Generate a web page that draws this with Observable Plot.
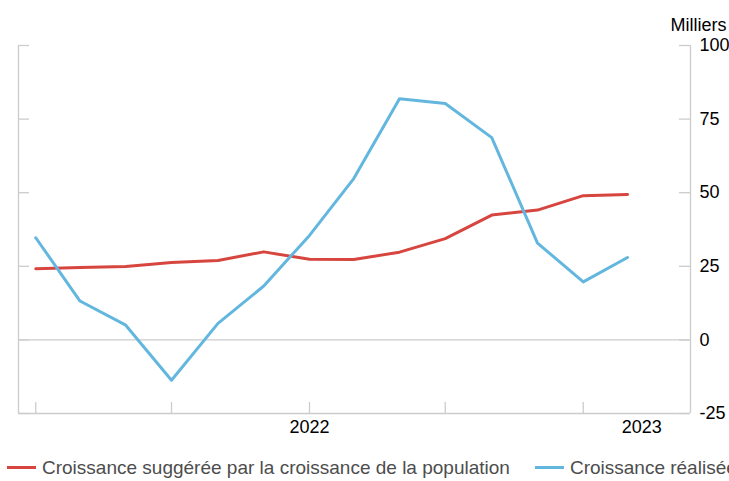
<!DOCTYPE html>
<html>
<head>
<meta charset="utf-8">
<script src="https://cdn.jsdelivr.net/npm/d3@7"></script>
<script src="https://cdn.jsdelivr.net/npm/@observablehq/plot@0.6"></script>
<style>
  html, body { margin: 0; padding: 0; background: #fff; overflow: hidden; width: 729px; height: 481px; }
  #wrap { position: relative; width: 729px; height: 481px; }
  #legend { position: absolute; top: 455px; left: 7px; white-space: nowrap; font-family: "Liberation Sans", Arial, sans-serif; font-size: 19px; color: #4d4d4d; line-height: 26px; }
  .item { display: inline-block; margin-right: 25px; }
  .sw { display: inline-block; width: 29px; height: 3px; vertical-align: middle; margin-right: 6px; position: relative; top: -1px; }
</style>
</head>
<body>
<div id="wrap"><div id="chart"></div><div id="legend"></div></div>
<script>
// ---- data ----
const dates = ["2021-01-01","2021-03-01","2021-05-01","2021-07-01","2021-09-01","2021-11-01",
               "2022-01-01","2022-03-01","2022-05-01","2022-07-01","2022-09-01","2022-11-01",
               "2023-01-01","2023-03-01"];
const seriesNames = ["Croissance suggérée par la croissance de la population", "Croissance réalisée"];
const seriesColors = ["#d6463f", "#63b7df"];
const popGrowth = [24.2, 24.6, 24.9, 26.3, 27.0, 29.9, 27.4, 27.3, 29.8, 34.4, 42.4, 44.1, 49.0, 49.4];
const realized  = [34.7, 13.2, 5.0, -13.7, 5.6, 18.3, 35.5, 54.8, 81.9, 80.3, 68.7, 32.9, 19.7, 28.0];
const yTicks = [-25, 0, 25, 50, 75, 100];
const xTicks = ["2021-01-01", "2021-07-01", "2022-01-01", "2022-07-01", "2023-01-01"];
const xLabels = [{date: "2022-01-01", label: "2022"}, {date: "2023-03-20", label: "2023"}];
const xDomain = ["2020-12-09", "2023-05-24"];
const unitLabel = "Milliers";

// ---- build ----
const parse = s => new Date(s + "T00:00:00Z");
const rows = [];
dates.forEach((d, i) => {
  rows.push({date: parse(d), value: popGrowth[i], series: seriesNames[0]});
  rows.push({date: parse(d), value: realized[i], series: seriesNames[1]});
});

const W = 729, H = 450, mT = 45, mB = 37, mL = 18, mR = 39;
const plotW = W - mL - mR, plotH = H - mT - mB;
const grid = "#cccccc";

const chart = Plot.plot({
  width: W, height: H,
  marginTop: mT, marginBottom: mB, marginLeft: mL, marginRight: mR,
  x: {type: "utc", domain: xDomain.map(parse), axis: null},
  y: {domain: [-25, 100], axis: null},
  color: {domain: seriesNames, range: seriesColors},
  style: {fontFamily: "'Liberation Sans', Arial, sans-serif", fontSize: "18px", color: "#000", background: "#fff", overflow: "visible"},
  marks: [
    Plot.tickY(yTicks, {y: d => d, stroke: grid, strokeWidth: 1.3, insetRight: plotW - 11}),
    Plot.tickY(yTicks, {y: d => d, stroke: grid, strokeWidth: 1.3, insetLeft: plotW - 11}),
    Plot.ruleX(xDomain.map(parse), {x: d => d, stroke: grid, strokeWidth: 1.3}),
    Plot.ruleY([0, -25], {y: d => d, stroke: grid, strokeWidth: 1.3}),
    Plot.tickX(xTicks.map(parse), {x: d => d, stroke: grid, strokeWidth: 1.3, insetTop: plotH - 11}),
    Plot.axisY({anchor: "right", ticks: yTicks, tickSize: 0, tickPadding: 9, label: null, tickFormat: d => String(d), fontSize: 18, fill: "#000"}),
    Plot.text(xLabels, {x: d => parse(d.date), text: "label", frameAnchor: "bottom", dy: 19, fontSize: 18, fill: "#000"}),
    Plot.text([unitLabel], {text: d => d, frameAnchor: "top-right", textAnchor: "end", dx: 36, dy: -27, fontSize: 18, fill: "#000"}),
    Plot.line(rows, {x: "date", y: "value", z: "series", stroke: "series", strokeWidth: 3})
  ]
});
document.getElementById("chart").appendChild(chart);

const legend = document.getElementById("legend");
seriesNames.forEach((name, i) => {
  const it = document.createElement("span");
  it.className = "item";
  const sw = document.createElement("span");
  sw.className = "sw";
  sw.style.background = seriesColors[i];
  it.appendChild(sw);
  it.appendChild(document.createTextNode(name));
  legend.appendChild(it);
});
</script>
</body>
</html>
